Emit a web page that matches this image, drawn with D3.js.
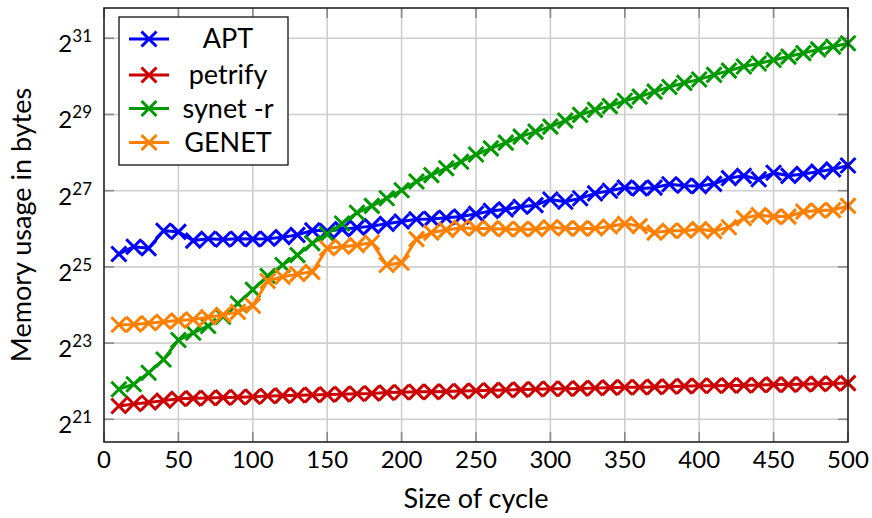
<!DOCTYPE html>
<html>
<head>
<meta charset="utf-8">
<script src="https://cdn.jsdelivr.net/npm/d3@7"></script>
<style>
  html, body { margin: 0; padding: 0; background: #fff; }
  svg { display: block; font-family: Lato, "Open Sans", sans-serif; }
</style>
</head>
<body>
<svg id="chart" width="872" height="518"></svg>
<script>
// ---- Data (memory usage given as log2 of bytes) ----
const cycleSizes = d3.range(10, 501, 10); // 10, 20, ..., 500

const aptLog2 = [25.34, 25.53, 25.49, 25.95, 25.92, 25.69, 25.74, 25.72, 25.74, 25.73,
                 25.74, 25.78, 25.84, 25.96, 25.94, 25.99, 26.03, 26.07, 26.13, 26.19,
                 26.25, 26.26, 26.29, 26.32, 26.39, 26.47, 26.51, 26.58, 26.62, 26.77,
                 26.71, 26.80, 26.93, 27.00, 27.08, 27.06, 27.08, 27.17, 27.13, 27.12,
                 27.18, 27.33, 27.39, 27.30, 27.47, 27.39, 27.44, 27.50, 27.56, 27.66];

const petrifyLog2 = [21.35, 21.40, 21.44, 21.49, 21.54, 21.55, 21.56, 21.57, 21.58, 21.59,
                     21.61, 21.62, 21.63, 21.64, 21.65, 21.66, 21.67, 21.68, 21.70, 21.71,
                     21.72, 21.72, 21.73, 21.74, 21.75, 21.76, 21.77, 21.78, 21.79, 21.80,
                     21.80, 21.81, 21.82, 21.83, 21.84, 21.84, 21.85, 21.86, 21.87, 21.88,
                     21.88, 21.89, 21.89, 21.90, 21.91, 21.91, 21.92, 21.93, 21.94, 21.95];

const synetLog2 = [21.79, 21.92, 22.22, 22.57, 23.08, 23.27, 23.45, 23.69, 24.04, 24.40,
                   24.76, 25.05, 25.31, 25.62, 25.86, 26.14, 26.42, 26.60, 26.80, 27.01,
                   27.24, 27.41, 27.59, 27.76, 27.95, 28.11, 28.26, 28.42, 28.55, 28.68,
                   28.84, 28.99, 29.12, 29.22, 29.36, 29.47, 29.60, 29.72, 29.83, 29.92,
                   30.04, 30.15, 30.26, 30.34, 30.43, 30.52, 30.61, 30.71, 30.78, 30.87];

const genetLog2 = [23.48, 23.49, 23.52, 23.56, 23.59, 23.62, 23.68, 23.74, 23.82, 23.98,
                   24.63, 24.74, 24.81, 24.87, 25.49, 25.53, 25.57, 25.64, 25.05, 25.11,
                   25.73, 25.90, 25.97, 26.03, 26.01, 26.01, 25.99, 25.99, 25.99, 26.04,
                   26.01, 26.01, 26.01, 26.06, 26.13, 26.07, 25.90, 25.95, 25.95, 25.99,
                   25.94, 26.04, 26.28, 26.36, 26.32, 26.32, 26.45, 26.48, 26.49, 26.60];

const seriesNames = ["APT", "petrify", "synet -r", "GENET"];
const seriesColors = ["#0000ff", "#cc0000", "#009900", "#ff8000"];
const seriesValues = [aptLog2, petrifyLog2, synetLog2, genetLog2];

const xTicks = [0, 50, 100, 150, 200, 250, 300, 350, 400, 450, 500];
const yTickExponents = [21, 23, 25, 27, 29, 31];
const xLabel = "Size of cycle";
const yLabel = "Memory usage in bytes";

// ---- Layout ----
const plot = { left: 104, right: 848, top: 8, bottom: 442 };
const svg = d3.select("#chart");

const x = d3.scaleLinear().domain([0, 500]).range([plot.left, plot.right]);
const y = d3.scaleLog().base(2)
  .domain([Math.pow(2, 20.404), Math.pow(2, 31.795)])
  .range([plot.bottom, plot.top]);

const gridColor = "#cfcfcf";
const tickColor = "#8a8a8a";

// Grid lines
const grid = svg.append("g");
grid.selectAll("line.vx").data(xTicks.filter(t => t > 0 && t < 500)).enter()
  .append("line")
  .attr("x1", d => x(d)).attr("x2", d => x(d))
  .attr("y1", plot.top).attr("y2", plot.bottom)
  .attr("stroke", gridColor).attr("stroke-width", 1.6);
grid.selectAll("line.hy").data(yTickExponents).enter()
  .append("line")
  .attr("x1", plot.left).attr("x2", plot.right)
  .attr("y1", d => y(Math.pow(2, d))).attr("y2", d => y(Math.pow(2, d)))
  .attr("stroke", gridColor).attr("stroke-width", 1.6);

// Inner tick marks on all four sides
const tlen = 10;
const ticks = svg.append("g").attr("stroke", tickColor).attr("stroke-width", 1.6);
xTicks.forEach(t => {
  ticks.append("line").attr("x1", x(t)).attr("x2", x(t)).attr("y1", plot.bottom).attr("y2", plot.bottom - tlen);
  ticks.append("line").attr("x1", x(t)).attr("x2", x(t)).attr("y1", plot.top).attr("y2", plot.top + tlen);
});
yTickExponents.forEach(e => {
  const yy = y(Math.pow(2, e));
  ticks.append("line").attr("x1", plot.left).attr("x2", plot.left + tlen).attr("y1", yy).attr("y2", yy);
  ticks.append("line").attr("x1", plot.right).attr("x2", plot.right - tlen).attr("y1", yy).attr("y2", yy);
});

// Series
const line = d3.line().x(d => x(d[0])).y(d => y(Math.pow(2, d[1])));
const ms = 7.5; // half-size of x marker
seriesValues.forEach((vals, i) => {
  const pts = cycleSizes.map((c, j) => [c, vals[j]]);
  const g = svg.append("g");
  g.append("path").datum(pts)
    .attr("d", line).attr("fill", "none")
    .attr("stroke", seriesColors[i]).attr("stroke-width", 3)
    .attr("stroke-linejoin", "round");
  g.selectAll("path.m").data(pts).enter().append("path")
    .attr("d", d => {
      const cx = x(d[0]), cy = y(Math.pow(2, d[1]));
      return `M${cx - ms},${cy - ms}L${cx + ms},${cy + ms}M${cx - ms},${cy + ms}L${cx + ms},${cy - ms}`;
    })
    .attr("stroke", seriesColors[i]).attr("stroke-width", 3).attr("fill", "none");
});

// Frame
svg.append("rect")
  .attr("x", plot.left).attr("y", plot.top)
  .attr("width", plot.right - plot.left).attr("height", plot.bottom - plot.top)
  .attr("fill", "none").attr("stroke", "#222").attr("stroke-width", 1.6);

// X tick labels
svg.append("g").selectAll("text").data(xTicks).enter().append("text")
  .attr("x", d => x(d)).attr("y", 468)
  .attr("text-anchor", "middle").attr("font-size", 24).attr("fill", "#000")
  .text(d => d);

// Y tick labels: 2^n
const yl = svg.append("g");
yTickExponents.forEach(e => {
  const yy = y(Math.pow(2, e));
  const t = yl.append("text").attr("x", 92).attr("y", yy + 14)
    .attr("text-anchor", "end").attr("font-size", 24).attr("fill", "#000");
  t.append("tspan").text("2");
  t.append("tspan").attr("dy", -10).attr("font-size", 17).text(e);
});

// Axis labels
svg.append("text").attr("x", (plot.left + plot.right) / 2).attr("y", 508)
  .attr("text-anchor", "middle").attr("font-size", 27).text(xLabel);
svg.append("text")
  .attr("transform", `translate(31,${(plot.top + plot.bottom) / 2}) rotate(-90)`)
  .attr("text-anchor", "middle").attr("font-size", 27).text(yLabel);

// Legend
const lg = svg.append("g");
lg.append("rect").attr("x", 119).attr("y", 17).attr("width", 169).attr("height", 148)
  .attr("fill", "#fff").attr("stroke", "#222").attr("stroke-width", 1.4);
const legendY = [39, 75, 108.5, 142.5];
seriesNames.forEach((name, i) => {
  const ly = legendY[i];
  lg.append("line").attr("x1", 129).attr("x2", 169).attr("y1", ly).attr("y2", ly)
    .attr("stroke", seriesColors[i]).attr("stroke-width", 3);
  lg.append("path")
    .attr("d", `M${149 - ms},${ly - ms}L${149 + ms},${ly + ms}M${149 - ms},${ly + ms}L${149 + ms},${ly - ms}`)
    .attr("stroke", seriesColors[i]).attr("stroke-width", 3);
  lg.append("text").attr("x", 228).attr("y", ly + 9)
    .attr("text-anchor", "middle").attr("font-size", 27).attr("fill", "#000")
    .text(name);
});
</script>
</body>
</html>
